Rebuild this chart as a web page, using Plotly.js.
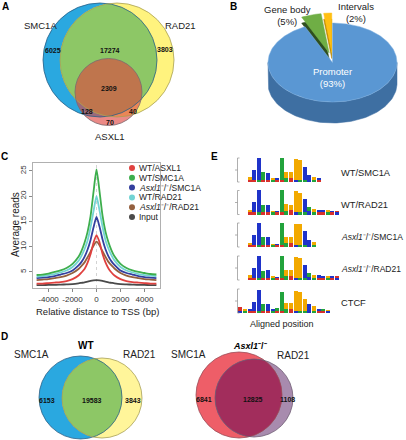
<!DOCTYPE html>
<html><head><meta charset="utf-8">
<script src="https://cdn.plot.ly/plotly-3.0.1.min.js"></script>
<style>html,body{margin:0;padding:0;background:#fff}#chart{width:406px;height:440px}</style>
</head><body><div id="chart"></div>
<script>
// ================= DATA =================
// Panel A: three-set Venn (SMC1A, RAD21, ASXL1)
const vennASets = ['SMC1A', 'RAD21', 'ASXL1'];
const vennACounts = [6025, 17274, 3803, 2309, 128, 40, 70]; // SMC1A only, SMC1A&RAD21, RAD21 only, all three, SMC1A&ASXL1, RAD21&ASXL1, ASXL1 only

// Panel B: genomic distribution
const pieLabels = ['Promoter', 'Gene body', 'Intervals'];
const pieValues = [93, 5, 2];

// Panel C: average reads around TSS
const distX = [-5000,-4500,-4000,-3500,-3000,-2500,-2000,-1500,-1250,-1000,-750,-500,-250,0,250,500,750,1000,1250,1500,2000,2500,3000,3500,4000,4500,5000];
const seriesNames = ['WT/ASXL1', 'WT/SMC1A', '<i>Asxl1</i>⁻/⁻/SMC1A', 'WT/RAD21', '<i>Asxl1</i>⁻/⁻/RAD21', 'Input'];
const readsWtAsxl1 = [2.7,2.7,2.8,2.9,3.0,3.2,3.6,4.3,4.9,5.6,6.8,8.5,10.8,12.3,10.9,8.6,6.9,5.7,4.9,4.3,3.6,3.2,3.0,2.9,2.8,2.7,2.7];
const readsWtSmc1a = [4.4,4.5,4.7,5.0,5.3,5.8,6.6,8.0,9.2,10.8,12.9,16.0,20.8,25.3,21.0,16.2,13.0,10.9,9.3,8.1,6.6,5.8,5.3,5.0,4.8,4.6,4.5];
const readsKoSmc1a = [3.8,3.9,4.0,4.2,4.5,4.8,5.3,6.3,7.0,8.0,9.4,11.3,13.8,15.9,14.0,11.5,9.5,8.1,7.1,6.4,5.3,4.8,4.5,4.2,4.0,3.9,3.8];
const readsWtRad21 = [4.1,4.2,4.4,4.6,4.9,5.3,6.0,7.2,8.2,9.5,11.2,13.8,17.0,20.0,17.2,14.0,11.3,9.6,8.3,7.3,6.0,5.3,4.9,4.6,4.4,4.3,4.2];
const readsKoRad21 = [3.4,3.5,3.6,3.8,4.0,4.3,4.8,5.6,6.2,6.9,7.9,9.0,10.2,11.0,10.3,9.1,8.0,7.0,6.3,5.7,4.8,4.3,4.0,3.8,3.6,3.5,3.4];
const readsInput   = [2.4,2.4,2.45,2.45,2.5,2.55,2.6,2.75,2.85,2.95,3.1,3.25,3.35,3.4,3.35,3.25,3.1,2.95,2.85,2.75,2.6,2.55,2.5,2.45,2.45,2.4,2.4];
const xTickVals = [-4000, -2000, 0, 2000, 4000];
const xTickText = ['-4000', '-2000', '0', '2000', '4000'];
const yTickVals = [5, 10, 15, 20, 25];
const xTitleC = 'Relative distance to TSS (bp)';
const yTitleC = 'Average reads';

// Panel D: two-set Venns
const vennDSets = ['SMC1A', 'RAD21'];
const vennDGroups = ['<b>WT</b>', '<b><i>Asxl1</i>⁻/⁻</b>'];
const vennDWtCounts = [6153, 19583, 3843];
const vennDKoCounts = [6841, 12825, 1108];

// Panel E: motif logos, information content per position ('.' = none)
const logoNames = ['WT/SMC1A', 'WT/RAD21', '<i>Asxl1</i>⁻/⁻/SMC1A', '<i>Asxl1</i>⁻/⁻/RAD21', 'CTCF'];
const logoTop = [
  '..GCCACGCAGGGGCCGC....',
  '..GCCACGCAGGGGCAGCCGCT',
  '..GCCACGCAGGGGCCG.....',
  '..GCCACGCAGGGGCAGCCGCT',
  'TGCCCACCAAGGGGGCGCAGT.'
];
const logoTopBits = [
  [0,0,0.3,0.9,2.0,0.7,0.6,0.15,0.15,2.0,0.6,0.5,1.9,1.8,1.2,0.35,0.3,0.12,0,0,0,0],
  [0,0,0.25,0.9,2.0,0.6,0.7,0.15,0.1,2.0,0.6,0.5,1.9,1.8,1.2,0.35,0.3,0.25,0.2,0.2,0.15,0.15],
  [0,0,0.2,0.9,2.0,0.7,0.7,0.1,0.1,2.0,0.6,0.5,1.9,1.9,1.3,0.35,0.3,0,0,0,0,0],
  [0,0,0.25,0.9,2.0,0.6,0.7,0.15,0.1,2.0,0.6,0.5,1.9,1.8,1.2,0.35,0.3,0.25,0.2,0.2,0.15,0.15],
  [0.3,0.15,0.2,0.8,1.9,0.6,0.6,0.2,0.25,1.7,0.6,0.6,1.8,1.7,1.1,0.5,0.4,0.2,0.15,0.1,0,0]
];
const logoSub = [
  '..TTATTATTATCAACAT....',
  '..TTATTATTATCAACATTATC',
  '..TTATTATTATCAACA.....',
  '..TTATTATTATCAACATTATC',
  'CATTATTATTATCAACATTC..'
];
const logoSubBits = [
  [0,0,0.2,0.2,0.2,0.22,0.2,0.2,0.2,0.2,0.35,0.4,0.2,0.2,0.2,0.3,0.2,0.2,0,0,0,0],
  [0,0,0.2,0.2,0.2,0.22,0.2,0.2,0.2,0.2,0.35,0.4,0.2,0.2,0.2,0.3,0.2,0.2,0.2,0.2,0.2,0.2],
  [0,0,0.2,0.2,0.2,0.22,0.2,0.2,0.2,0.2,0.35,0.4,0.2,0.2,0.2,0.3,0.2,0,0,0,0,0],
  [0,0,0.2,0.2,0.2,0.22,0.2,0.2,0.2,0.2,0.35,0.4,0.2,0.2,0.2,0.3,0.2,0.2,0.2,0.2,0.2,0.2],
  [0.22,0.2,0.2,0.2,0.2,0.22,0.2,0.2,0.2,0.2,0.35,0.35,0.2,0.2,0.2,0.3,0.2,0.2,0.2,0.2,0,0]
];

// ================= DRAWING =================
const FONT = 'Arial, Liberation Sans, sans-serif';
const traces = [], shapes = [], annotations = [];
function txt(x, y, text, size, o) {
  o = o || {};
  annotations.push({x, y, xref: 'x', yref: 'y', text, showarrow: false,
    xanchor: o.xanchor || 'center', yanchor: 'middle', textangle: o.angle || 0,
    font: {family: FONT, size, color: o.color || '#222'}});
}
function circle(c, fill, line) {
  shapes.push({type: 'circle', xref: 'x', yref: 'y', x0: c.x - c.r, x1: c.x + c.r, y0: c.y - c.r, y1: c.y + c.r,
    fillcolor: fill, line: line || {width: 0}});
}
function lens(c1, c2, fill) {
  const pts = [], N = 480;
  for (let k = 0; k < N; k++) {
    const t = 2 * Math.PI * k / N;
    let x = c1.x + c1.r * Math.cos(t), y = c1.y + c1.r * Math.sin(t);
    if (Math.hypot(x - c2.x, y - c2.y) <= c2.r) pts.push([x, y]);
    x = c2.x + c2.r * Math.cos(t); y = c2.y + c2.r * Math.sin(t);
    if (Math.hypot(x - c1.x, y - c1.y) <= c1.r) pts.push([x, y]);
  }
  const mx = pts.reduce((s, p) => s + p[0], 0) / pts.length, my = pts.reduce((s, p) => s + p[1], 0) / pts.length;
  pts.sort((a, b) => Math.atan2(a[1] - my, a[0] - mx) - Math.atan2(b[1] - my, b[0] - mx));
  shapes.push({type: 'path', xref: 'x', yref: 'y', fillcolor: fill, line: {width: 0},
    path: 'M' + pts.map(p => p[0].toFixed(2) + ',' + p[1].toFixed(2)).join('L') + 'Z'});
}

// ---- Panel A ----
const cA1 = {x: 100, y: 60, r: 57}, cA2 = {x: 117, y: 60, r: 57}, cA3 = {x: 108.5, y: 92, r: 33.5};
circle(cA1, '#2AA8E0'); circle(cA2, '#FFF37E'); lens(cA1, cA2, '#8DC766');
circle(cA3, 'rgba(222,66,62,0.62)');
circle(cA1, 'rgba(0,0,0,0)', {width: 0.8, color: '#2B5F86'});
circle(cA2, 'rgba(0,0,0,0)', {width: 0.8, color: '#A79F55'});
circle(cA3, 'rgba(0,0,0,0)', {width: 0.8, color: '#7A6A70'});
txt(5, 6, '<b>A</b>', 10, {color: '#000'});
txt(40, 25, vennASets[0], 9.5); txt(180, 25, vennASets[1], 9.5); txt(110, 136, vennASets[2], 9.5);
const aPos = [[53, 50], [110, 50], [165, 49], [109, 88], [87, 111], [133, 111], [110, 122]];
vennACounts.forEach((v, i) => txt(aPos[i][0], aPos[i][1], '<b>' + v + '</b>', 7, {color: '#111'}));

// ---- Panel B (3-D style pie) ----
const pieC = {x: 332.5, y: 62.5, rx: 64.5, ry: 39.5, depth: 21};
const pieTop = ['#5A97D3', '#6FAE45', '#FFBF12'];
const pieSide = ['#3E6FA2', '#2F4F1F', '#B88600'];
const piePull = [0, 10, 10];
const pieTotal = pieValues.reduce((a, b) => a + b, 0);
function ept(t, dx, dy, dd) { return [pieC.x + dx + pieC.rx * Math.sin(t), pieC.y + dy + dd - pieC.ry * Math.cos(t)]; }
function poly(pts, fill, lc) {
  traces.push({type: 'scatter', x: pts.map(p => p[0]), y: pts.map(p => p[1]), mode: 'lines', fill: 'toself', fillcolor: fill,
    line: {width: 0.5, color: lc || fill}, xaxis: 'x', yaxis: 'y', hoverinfo: 'skip', showlegend: false});
}
function wedge(a0, a1, dx, dy, dd) {
  const pts = [[pieC.x + dx, pieC.y + dy + dd]];
  const n = Math.max(6, Math.ceil((a1 - a0) / 0.02));
  for (let k = 0; k <= n; k++) pts.push(ept(a0 + (a1 - a0) * k / n, dx, dy, dd));
  pts.push(pts[0]);
  return pts;
}
let acc = 0; const slices = [];
pieValues.forEach((v, i) => {
  const a0 = acc / pieTotal * 2 * Math.PI; acc += v; const a1 = acc / pieTotal * 2 * Math.PI;
  const m = (a0 + a1) / 2;
  slices.push({a0, a1, dx: piePull[i] * 1.2 * Math.sin(m), dy: -piePull[i] * Math.cos(m)});
});
[1, 2].forEach(i => { const s = slices[i]; poly(wedge(s.a0, s.a1, s.dx, s.dy, 6), pieSide[i]); });
[1, 2].forEach(i => { const s = slices[i]; poly(wedge(s.a0, s.a1, s.dx, s.dy, 0), pieTop[i]); });
{
  const side = [];
  for (let k = 0; k <= 90; k++) side.push(ept(Math.PI / 2 + Math.PI * k / 90, 0, 0, 0));
  for (let k = 90; k >= 0; k--) side.push(ept(Math.PI / 2 + Math.PI * k / 90, 0, 0, pieC.depth));
  side.push(side[0]);
  poly(side, pieSide[0]);
  const s = slices[0];
  poly(wedge(s.a0, s.a1, 0, 0, 0), pieTop[0], '#7FB0E0');
}
txt(233, 6, '<b>B</b>', 10, {color: '#000'});
txt(332, 77.5, pieLabels[0] + '<br>(' + pieValues[0] + '%)', 9.5, {color: '#fff'});
txt(287, 15.5, pieLabels[1] + '<br>(' + pieValues[1] + '%)', 9.5);
txt(356, 12, pieLabels[2] + '<br>(' + pieValues[2] + '%)', 9.5);

// ---- Panel C ----
const lineColors = ['#E0413F', '#3DAE4D', '#333F9E', '#72D3D3', '#94603F', '#4A4A4A'];
const seriesData = [readsWtAsxl1, readsWtSmc1a, readsKoSmc1a, readsWtRad21, readsKoRad21, readsInput];
[5, 4, 0, 2, 3, 1].forEach(i => {
  traces.push({type: 'scatter', x: distX, y: seriesData[i], mode: 'lines', name: seriesNames[i],
    line: {color: lineColors[i], width: 1.8, shape: 'spline', smoothing: 0.6},
    xaxis: 'x2', yaxis: 'y2', hoverinfo: 'skip', showlegend: false});
});
shapes.push({type: 'line', xref: 'x2', yref: 'y2 domain', x0: 0, x1: 0, y0: 0, y1: 1, layer: 'below',
  line: {color: '#c8c8c8', width: 0.8, dash: 'dot'}});
seriesNames.forEach((n, i) => {
  const y = 168 + i * 9.8;
  circle({x: 132, y, r: 3}, lineColors[i]);
  txt(137, y, n, 8.5, {xanchor: 'left'});
});
txt(4, 156, '<b>C</b>', 10, {color: '#000'});
txt(97, 311, xTitleC, 9.5);
txt(15, 225, yTitleC, 10, {angle: -90});

// ---- Panel D ----
const cW1 = {x: 80.5, y: 397.5, r: 41.5}, cW2 = {x: 102, y: 398, r: 40};
circle(cW1, '#2AA8E0'); circle(cW2, '#FFF59A'); lens(cW1, cW2, '#8DC766');
circle(cW1, 'rgba(0,0,0,0)', {width: 0.8, color: '#2B5F86'});
circle(cW2, 'rgba(0,0,0,0)', {width: 0.8, color: '#A79F55'});
const cK1 = {x: 239, y: 395, r: 43}, cK2 = {x: 254, y: 398, r: 39};
circle(cK1, '#EE5E68'); circle(cK2, '#A88BAE'); lens(cK1, cK2, '#A22D5C');
circle(cK1, 'rgba(0,0,0,0)', {width: 0.8, color: '#9A4A55'});
circle(cK2, 'rgba(0,0,0,0)', {width: 0.8, color: '#6F5D73'});
txt(4, 336, '<b>D</b>', 10, {color: '#000'});
txt(86, 345, vennDGroups[0], 10, {color: '#000'});
txt(250, 346, vennDGroups[1], 9, {color: '#000'});
txt(31, 354, vennDSets[0], 10); txt(139, 354, vennDSets[1], 10);
txt(188, 354, vennDSets[0], 10); txt(293, 355, vennDSets[1], 10);
const dWpos = [[47, 400], [92, 400], [133, 400]], dKpos = [[204, 399], [253, 399], [287, 399]];
vennDWtCounts.forEach((v, i) => txt(dWpos[i][0], dWpos[i][1], '<b>' + v + '</b>', 7, {color: '#111'}));
vennDKoCounts.forEach((v, i) => txt(dKpos[i][0], dKpos[i][1], '<b>' + v + '</b>', 7, {color: '#111'}));

// ---- Panel E (logos as stacked per-nucleotide blocks) ----
const nucColor = {A: '#22A33C', C: '#1F33C9', G: '#F2A900', T: '#D8302B'};
const logoBase = [182, 214.5, 247, 280, 313];
const logoLabelSize = [9.3, 9.3, 8.5, 8.5, 9.3];
const PX_PER_BIT = 11;
logoNames.forEach((name, r) => {
  const B = logoBase[r];
  const xs = [], hs = [], bs = [], cs = [];
  for (let i = 0; i < logoTop[r].length; i++) {
    const x = 240.4 + 4.6 * i;
    let base = B;
    const sl = logoSub[r][i], sb = logoSubBits[r][i];
    if (sl !== '.' && sb > 0) {
      xs.push(x); bs.push(base); hs.push(-sb * PX_PER_BIT); cs.push(nucColor[sl]);
      base -= sb * PX_PER_BIT;
    }
    const tl = logoTop[r][i], tb = logoTopBits[r][i];
    if (tl !== '.' && tb > 0) {
      xs.push(x); bs.push(base); hs.push(-tb * PX_PER_BIT); cs.push(nucColor[tl]);
    }
  }
  traces.push({type: 'bar', x: xs, y: hs, base: bs, width: 3.9, marker: {color: cs, line: {width: 0}},
    xaxis: 'x', yaxis: 'y', hoverinfo: 'skip', showlegend: false});
  const bl = {color: '#9a9a9a', width: 0.8};
  shapes.push({type: 'line', xref: 'x', yref: 'y', x0: 237.5, x1: 237.5, y0: B - 24, y1: B, line: bl});
  shapes.push({type: 'line', xref: 'x', yref: 'y', x0: 237.5, x1: 239.5, y0: B - 24, y1: B - 24, line: bl});
  shapes.push({type: 'line', xref: 'x', yref: 'y', x0: 237.5, x1: 239.5, y0: B, y1: B, line: bl});
  shapes.push({type: 'line', xref: 'x', yref: 'y', x0: 235, x1: 237.5, y0: B - 12, y1: B - 12, line: bl});
  txt(339, [173, 205, 237, 269, 303][r], name, logoLabelSize[r], {xanchor: 'left'});
});
txt(214, 156, '<b>E</b>', 10, {color: '#000'});
txt(282, 324, 'Aligned position', 9);

// ================= LAYOUT =================
const axC = {showline: true, mirror: true, linecolor: '#b0b0b0', linewidth: 1, ticks: 'outside', ticklen: 3,
  tickcolor: '#888', showgrid: false, zeroline: false, tickfont: {family: FONT, size: 8, color: '#333'}, fixedrange: true};
const layout = {
  width: 406, height: 440, autosize: false, margin: {l: 0, r: 0, t: 0, b: 0},
  paper_bgcolor: '#fff', plot_bgcolor: 'rgba(0,0,0,0)', showlegend: false, barmode: 'overlay', bargap: 0,
  font: {family: FONT},
  xaxis: {domain: [0, 1], range: [0, 406], visible: false, fixedrange: true},
  yaxis: {domain: [0, 1], range: [440, 0], visible: false, fixedrange: true},
  xaxis2: Object.assign({}, axC, {domain: [33 / 406, 160 / 406], range: [-5300, 5300], anchor: 'y2',
    tickmode: 'array', tickvals: xTickVals, ticktext: xTickText, tickangle: 0}),
  yaxis2: Object.assign({}, axC, {domain: [1 - 288 / 440, 1 - 163 / 440], range: [1.83, 26.58], anchor: 'x2',
    tickmode: 'array', tickvals: yTickVals, tickangle: -90}),
  shapes, annotations
};
Plotly.newPlot('chart', traces, layout, {staticPlot: true, displayModeBar: false});
</script>
</body></html>
